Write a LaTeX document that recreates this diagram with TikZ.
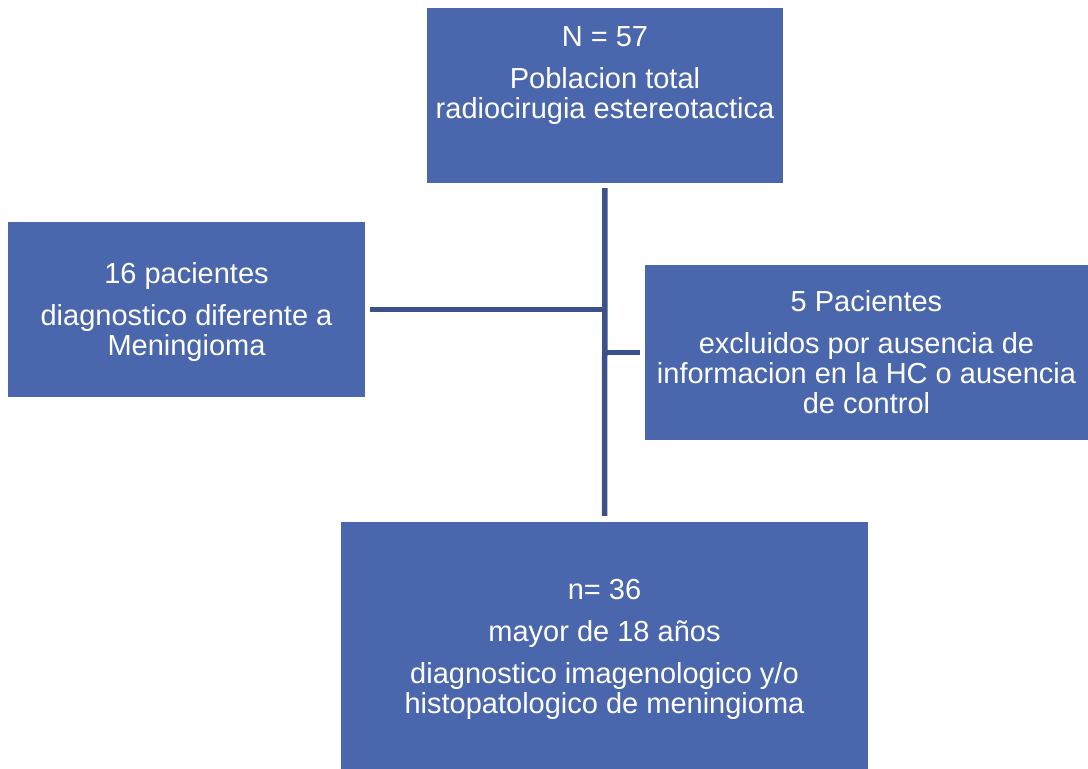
\documentclass[tikz,border=0pt]{standalone}
\usepackage{fontspec}
\setmainfont{Liberation Sans}
\usetikzlibrary{positioning}
\definecolor{boxblue}{HTML}{4A66AC}
\definecolor{lineblue}{HTML}{3C5189}

\begin{document}
\begin{tikzpicture}[x=1pt,y=-1pt,
	box/.style={fill=boxblue, draw=none, text=white, align=center, inner sep=0pt,
		font=\fontsize{29}{30}\selectfont},
	link/.style={draw=lineblue, line width=5.5pt}]

	% The Frame
	\useasboundingbox (0,0) rectangle (1088,769);

	% Boxes
	\node[box, minimum width=356pt, minimum height=175pt] (total) at (605,95.5) {};
	\node[box, anchor=center] (totaltxt) at (605,76) {N = 57\\[12pt] Poblacion total\\ radiocirugia estereotactica};
	\node[box, minimum width=357pt, minimum height=175pt] (diff) at (186.5,309.5) {};
	\node[box, anchor=center] (difftxt) at (186.5,312) {16 pacientes\\[12pt] diagnostico diferente a\\ Meningioma};
	\node[box, minimum width=443pt, minimum height=175pt] (excl) at (866.5,352.5)
		{5 Pacientes\\[12pt] excluidos por ausencia de\\ informacion en la HC o ausencia\\ de control};
	\node[box, minimum width=527pt, minimum height=247pt] (result) at (604.5,645.5) {};
	\node[box, anchor=center] (resulttxt) at (604.5,649.5)
		{n= 36\\[12pt] mayor de 18 años\\[12pt] diagnostico imagenologico y/o\\ histopatologico de meningioma};

	% Links
	\draw[link, shorten <=5pt, shorten >=6pt] (total.south) -- (result.north);
	\draw[link, shorten <=5pt] (diff.east) -- (diff.east -| total.south);
	\draw[link, shorten >=5pt] (excl.west -| total.south) -- (excl.west);

\end{tikzpicture}
\end{document}
